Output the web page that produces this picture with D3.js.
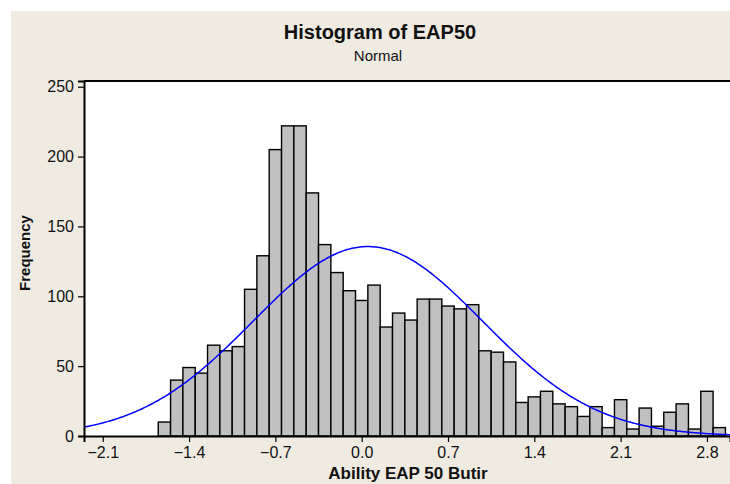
<!DOCTYPE html>
<html>
<head>
<meta charset="utf-8">
<script src="https://cdn.jsdelivr.net/npm/d3@7/dist/d3.min.js"></script>
<style>
  html, body { margin: 0; padding: 0; background: #ffffff; }
  svg { display: block; }
  text { font-family: "Liberation Sans", Arial, sans-serif; fill: #111; }
</style>
</head>
<body>
<svg id="chart" width="730" height="484"></svg>
<script>
// ---- data ----
const binCenters = [-1.6,-1.5,-1.4,-1.3,-1.2,-1.1,-1.0,-0.9,-0.8,-0.7,-0.6,-0.5,-0.4,-0.3,-0.2,-0.1,
  0.0,0.1,0.2,0.3,0.4,0.5,0.6,0.7,0.8,0.9,1.0,1.1,1.2,1.3,1.4,1.5,1.6,1.7,1.8,1.9,
  2.0,2.1,2.2,2.3,2.4,2.5,2.6,2.7,2.8,2.9];
const frequencies = [10,40,49,45,65,61,64,105,129,205,222,222,174,137,117,104,
  97,108,78,88,83,98,98,93,91,94,61,60,53,24,28,32,23,21,14,21,
  6,26,5,20,7,17,23,5,32,6];
const binWidth = 0.1;
const xTicks = [-2.1,-1.4,-0.7,0.0,0.7,1.4,2.1,2.8];
const yTicks = [0,50,100,150,200,250];
const fitMean = 0.05;   // fitted normal curve parameters
const fitSd = 0.93;
const titleText = "Histogram of EAP50";
const subtitleText = "Normal";
const xLabel = "Ability EAP 50 Butir";
const yLabel = "Frequency";

// ---- layout ----
const svg = d3.select("#chart");
const plotLeft = 84, plotRight = 730, plotTop = 81, plotBottom = 436;

svg.append("rect").attr("x", 11).attr("y", 11).attr("width", 719).attr("height", 473)
  .attr("fill", "#EFEBE1");

const x = d3.scaleLinear().domain([-2.252, 2.987]).range([plotLeft, plotRight]);
const y = d3.scaleLinear().domain([0, 254.1]).range([plotBottom, plotTop]);

svg.append("rect").attr("x", plotLeft).attr("y", plotTop)
  .attr("width", plotRight - plotLeft).attr("height", plotBottom - plotTop)
  .attr("fill", "#ffffff");

// bars
const data = binCenters.map((c, i) => ({ c, f: frequencies[i] }));
svg.append("g").selectAll("rect").data(data).join("rect")
  .attr("x", d => x(d.c - binWidth / 2))
  .attr("y", d => y(d.f))
  .attr("width", d => x(d.c + binWidth / 2) - x(d.c - binWidth / 2))
  .attr("height", d => y(0) - y(d.f))
  .attr("fill", "#C0C0C0")
  .attr("stroke", "#000")
  .attr("stroke-width", 1.4);

// normal curve
const N = d3.sum(frequencies);
const dens = v => N * binWidth / (fitSd * Math.sqrt(2 * Math.PI)) * Math.exp(-0.5 * ((v - fitMean) / fitSd) ** 2);
const xs = d3.range(0, 401).map(i => x.domain()[0] + (x.domain()[1] - x.domain()[0]) * i / 400);
svg.append("path")
  .datum(xs)
  .attr("d", d3.line().x(v => x(v)).y(v => y(dens(v))))
  .attr("fill", "none")
  .attr("stroke", "#0000FF")
  .attr("stroke-width", 1.5);

// frame line (top)
svg.append("line").attr("x1", plotLeft).attr("x2", plotRight).attr("y1", plotTop).attr("y2", plotTop)
  .attr("stroke", "#000").attr("stroke-width", 2);

// axes
const xAxis = d3.axisBottom(x).tickValues(xTicks).tickFormat(d3.format(".1f")).tickSize(6).tickPadding(5);
const gx = svg.append("g").attr("transform", `translate(0,${plotBottom})`).call(xAxis);
gx.select(".domain").attr("stroke-width", 2);
gx.selectAll(".tick line").attr("stroke-width", 1.2);
gx.selectAll("text").attr("font-size", 16).attr("font-family", "Liberation Sans, Arial, sans-serif").attr("fill", "#111");

const yAxis = d3.axisLeft(y).tickValues(yTicks).tickSize(6).tickPadding(4);
const gy = svg.append("g").attr("transform", `translate(${plotLeft},0)`).call(yAxis);
gy.select(".domain").attr("stroke-width", 2);
gy.selectAll(".tick line").attr("stroke-width", 1.2);
gy.selectAll("text").attr("font-size", 16).attr("font-family", "Liberation Sans, Arial, sans-serif").attr("fill", "#111");

// titles
svg.append("text").attr("x", 380).attr("y", 39).attr("text-anchor", "middle")
  .attr("font-size", 20).attr("font-weight", "bold").text(titleText);
svg.append("text").attr("x", 378).attr("y", 61).attr("text-anchor", "middle")
  .attr("font-size", 15).text(subtitleText);
svg.append("text").attr("x", 408).attr("y", 479).attr("text-anchor", "middle")
  .attr("font-size", 17).attr("font-weight", "bold").text(xLabel);
svg.append("text").attr("transform", "translate(30,253) rotate(-90)").attr("text-anchor", "middle")
  .attr("font-size", 15).attr("font-weight", "bold").text(yLabel);
</script>
</body>
</html>
